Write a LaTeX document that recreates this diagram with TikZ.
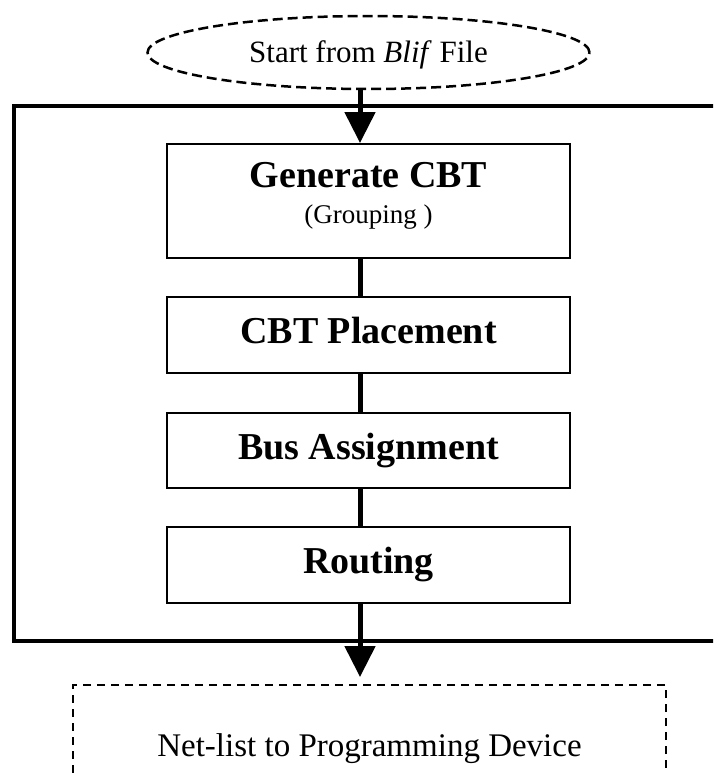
\documentclass[tikz,border=0pt]{standalone}
\usepackage{fontspec}
\setmainfont{Liberation Serif}
\usetikzlibrary{shapes.geometric,arrows.meta}
\begin{document}
\begin{tikzpicture}[x=1pt,y=-1pt,
  stage/.style={draw,line width=2pt,minimum width=403pt,inner sep=0pt,
    font=\fontsize{38}{40}\selectfont\bfseries,text height=27pt,text depth=10pt},
  link/.style={line width=5pt},
  flow/.style={line width=5pt,-{Triangle[length=31pt,width=30pt]}},
]
\useasboundingbox (0,0) rectangle (713,774);
\clip (0,0) rectangle (713,774);

% vertical axis carrying all the connectors
\coordinate (axis) at (360,0);

% frame around the tool flow (open to the right)
\draw[line width=3.5pt] (740,106) -- (14,106) -- (14,641) -- (740,641);

% input
\node[draw,ellipse,line width=2.5pt,dash pattern=on 10pt off 5pt,
      minimum width=442pt,minimum height=73pt,inner sep=0pt,
      font=\fontsize{31}{33}\selectfont,text height=21pt,text depth=1pt]
  (start) at (368.5,52.5) {Start from \textit{Blif} File};

% stages
\node[stage,minimum height=114pt,align=center,text height=60pt,text depth=16pt]
  (gen) at (368.5,201) {Generate CBT\\[-4pt]{\fontsize{27}{30}\selectfont\mdseries (Grouping )}};
\node[stage,minimum height=76pt] (place) at (368.5,335) {CBT Placement};
\node[stage,minimum height=75pt] (bus) at (368.5,450.5) {Bus Assignment};
\node[stage,minimum height=76pt] (route) at (368.5,565) {Routing};

% output
\node[draw,line width=2pt,dash pattern=on 8pt off 6pt,
      minimum width=593pt,minimum height=120pt,inner sep=0pt,
      font=\fontsize{33}{35}\selectfont,text height=22pt,text depth=0pt]
  (out) at (369.5,745) {Net-list to Programming Device};

% connectors
\draw[flow] (start.south -| axis) -- (gen.north -| axis);
\draw[link] (gen.south -| axis) -- (place.north -| axis);
\draw[link] (place.south -| axis) -- (bus.north -| axis);
\draw[link] (bus.south -| axis) -- (route.north -| axis);
\draw[flow,shorten >=7pt] (route.south -| axis) -- (out.north -| axis);
\end{tikzpicture}
\end{document}
